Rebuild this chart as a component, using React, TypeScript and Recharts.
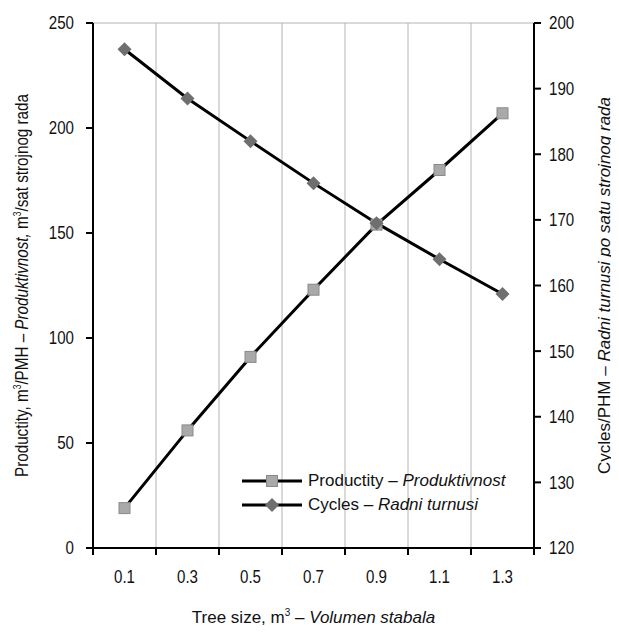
import React from 'react';
import { LineChart, Line, XAxis, YAxis, CartesianGrid, ReferenceLine } from 'recharts';

// values
const treeSizes = [0.1, 0.3, 0.5, 0.7, 0.9, 1.1, 1.3];
const productivity = [19, 56, 91, 123, 154, 180, 207];
const cycles = [196, 188.5, 182, 175.6, 169.5, 164, 158.7];

const boundaryTicks = [0, 0.2, 0.4, 0.6, 0.8, 1.0, 1.2, 1.4];
const leftTicks = [0, 50, 100, 150, 200, 250];
const rightTicks = [120, 130, 140, 150, 160, 170, 180, 190, 200];

const data = treeSizes.map((x, i) => ({ x, productivity: productivity[i], cycles: cycles[i] }));
const xTicks = [...boundaryTicks, ...treeSizes].sort((a, b) => a - b);

const FONT = '"Liberation Sans", Arial, sans-serif';
const TEXT = '#111';
const GRID = '#b4b4b4';
const SQUEEZE = 0.84; // reference tick labels use a condensed face

const NarrowText = ({ x, y, anchor, dy, children }: any) => (
  <text
    x={x}
    y={y}
    dy={dy}
    textAnchor={anchor}
    fontSize={18}
    fill={TEXT}
    fontFamily={FONT}
    transform={`translate(${x} 0) scale(${SQUEEZE} 1) translate(${-x} 0)`}
  >
    {children}
  </text>
);

const XTick = ({ x, y, payload }: any) => {
  if (boundaryTicks.includes(payload.value)) {
    return <line x1={x} x2={x} y1={y} y2={y + 7} stroke="#000" strokeWidth={2} />;
  }
  return <NarrowText x={x} y={y + 35} anchor="middle">{payload.value.toFixed(1)}</NarrowText>;
};

const LeftTick = ({ x, y, payload }: any) => (
  <NarrowText x={x} y={y} dy="0.355em" anchor="end">{payload.value}</NarrowText>
);

const RightTick = ({ x, y, payload }: any) => (
  <NarrowText x={x} y={y} dy="0.355em" anchor="start">{payload.value}</NarrowText>
);

const XTitle = ({ viewBox }: any) => {
  const cx = viewBox.x + viewBox.width / 2;
  return (
    <text x={cx} y={viewBox.y + 75} textAnchor="middle" fontSize={17} fill={TEXT} fontFamily={FONT}>
      <tspan>Tree size, m</tspan>
      <tspan dy={-7} fontSize={10}>3</tspan>
      <tspan dy={7}> – </tspan>
      <tspan fontStyle="italic">Volumen stabala</tspan>
    </text>
  );
};

const LeftTitle = ({ viewBox }: any) => {
  const cx = viewBox.x - 5;
  const cy = viewBox.y + viewBox.height / 2;
  return (
    <text x={cx} y={cy} transform={`rotate(-90 ${cx} ${cy})`} textAnchor="middle"
      fontSize={18} fill={TEXT} fontFamily={FONT} textLength={383} lengthAdjust="spacingAndGlyphs">
      <tspan>Productity, m</tspan>
      <tspan dy={-7} fontSize={10}>3</tspan>
      <tspan dy={7}>/PMH – </tspan>
      <tspan fontStyle="italic">Produktivnost,</tspan>
      <tspan> m</tspan>
      <tspan dy={-7} fontSize={10}>3</tspan>
      <tspan dy={7}>/sat strojnog rada</tspan>
    </text>
  );
};

const RightTitle = ({ viewBox }: any) => {
  const cx = viewBox.x + 76;
  const cy = viewBox.y + viewBox.height / 2;
  return (
    <text x={cx} y={cy} transform={`rotate(-90 ${cx} ${cy})`} textAnchor="middle"
      fontSize={17} fill={TEXT} fontFamily={FONT}>
      Cycles/PHM – <tspan fontStyle="italic">Radni turnusi po satu strojnog rada</tspan>
    </text>
  );
};

const SquareDot = ({ cx, cy, index }: any) => (
  <rect key={`sq-${index}`} x={cx - 5.5} y={cy - 5.5} width={11} height={11} fill="#a9a9a9" stroke="#8a8a8a" strokeWidth={1} />
);

const DiamondDot = ({ cx, cy, index }: any) => (
  <polygon key={`di-${index}`} points={`${cx},${cy - 7} ${cx + 7},${cy} ${cx},${cy + 7} ${cx - 7},${cy}`} fill="#6f6f6f" />
);

const LegendRow = ({ marker, label, italic }: { marker: 'square' | 'diamond'; label: string; italic: string }) => (
  <div style={{ display: 'flex', alignItems: 'center', height: 24 }}>
    <svg width={60} height={16}>
      <line x1={0} x2={60} y1={8} y2={8} stroke="#000" strokeWidth={3} />
      {marker === 'square'
        ? <rect x={24.5} y={2.5} width={11} height={11} fill="#a9a9a9" stroke="#8a8a8a" />
        : <polygon points="30,1 37,8 30,15 23,8" fill="#6f6f6f" />}
    </svg>
    <span style={{ marginLeft: 6 }}>
      {label} – <i>{italic}</i>
    </span>
  </div>
);

export default function App() {
  return (
    <div style={{ position: 'relative', width: 611, height: 624, fontFamily: FONT, color: TEXT }}>
      <LineChart width={611} height={624} data={data} margin={{ top: 15, right: 25, left: 25, bottom: 24 }}>
        <CartesianGrid vertical={false} stroke={GRID} strokeWidth={1} />
        {boundaryTicks.slice(1, -1).map((v) => (
          <ReferenceLine key={v} x={v} yAxisId="left" stroke={GRID} strokeWidth={1} />
        ))}
        <XAxis
          dataKey="x"
          type="number"
          domain={[0, 1.4]}
          ticks={xTicks}
          interval={0}
          tickLine={false}
          tickSize={0}
          tickMargin={0}
          height={60}
          axisLine={{ stroke: '#000', strokeWidth: 2 }}
          tick={<XTick />}
          label={<XTitle />}
        />
        <YAxis
          yAxisId="left"
          domain={[0, 250]}
          ticks={leftTicks}
          width={60}
          tickSize={7}
          tickMargin={12}
          axisLine={{ stroke: '#000', strokeWidth: 2 }}
          tickLine={{ stroke: '#000', strokeWidth: 2 }}
          tick={<LeftTick />}
          label={<LeftTitle />}
        />
        <YAxis
          yAxisId="right"
          orientation="right"
          domain={[120, 200]}
          ticks={rightTicks}
          width={60}
          tickSize={7}
          tickMargin={8}
          axisLine={{ stroke: '#000', strokeWidth: 2 }}
          tickLine={{ stroke: '#000', strokeWidth: 2 }}
          tick={<RightTick />}
          label={<RightTitle />}
        />
        <Line
          yAxisId="left"
          type="linear"
          dataKey="productivity"
          stroke="#000"
          strokeWidth={3}
          dot={(p: any) => <SquareDot {...p} />}
          activeDot={false}
          isAnimationActive={false}
        />
        <Line
          yAxisId="right"
          type="linear"
          dataKey="cycles"
          stroke="#000"
          strokeWidth={3}
          dot={(p: any) => <DiamondDot {...p} />}
          activeDot={false}
          isAnimationActive={false}
        />
      </LineChart>
      <div style={{ position: 'absolute', left: 234, top: 461, fontSize: 17 }}>
        <LegendRow marker="square" label="Productity" italic="Produktivnost" />
        <LegendRow marker="diamond" label="Cycles" italic="Radni turnusi" />
      </div>
    </div>
  );
}
